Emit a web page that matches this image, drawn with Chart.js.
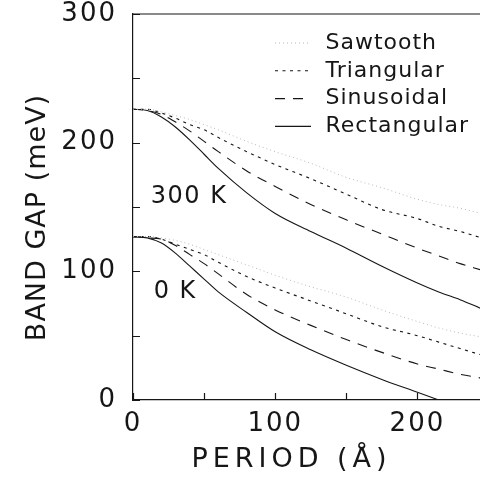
<!DOCTYPE html>
<html>
<head>
<meta charset="utf-8">
<script src="https://cdn.jsdelivr.net/npm/chart.js@4.4.1/dist/chart.umd.min.js"></script>
<style>
  html, body { margin: 0; padding: 0; background: #fff; }
  #wrap { width: 480px; height: 486px; }
</style>
</head>
<body>
<div id="wrap"><canvas id="chart"></canvas></div>
<script>
// ------------------------
// DATA
// ------------------------
const periods = [0, 10, 20, 30, 40, 50, 60, 80, 100, 125, 150, 175, 200, 215, 230, 245];

// 300 K curves (meV)
const saw300  = [226, 226, 224, 221, 218, 214, 210, 201, 193, 184, 173, 165, 156, 152, 149, 145];
const tri300  = [226, 226, 223, 219, 214, 210, 204, 193, 183, 172, 160, 148, 141, 135, 131, 126];
const sin300  = [226, 225, 222, 216, 209, 201, 193, 178, 166, 152, 140, 129, 118, 112, 106, 101];
const rect300 = [226, 225, 220, 212, 202, 191, 180, 161, 145, 131, 118, 104, 91, 84, 78, 71];

// 0 K curves (meV)
const saw0  = [127, 127, 126, 124, 121, 117, 113, 105, 97, 88, 80, 70, 61, 56, 52, 49];
const tri0  = [127, 127, 125, 121, 117, 113, 107, 96, 87, 77, 67, 57, 50, 45, 40, 35];
const sin0  = [127, 126, 125, 120, 113, 106, 98, 82, 70, 58, 47, 37, 28, 24, 20, 17];
const rect0 = [127, 126, 122, 114, 104, 94, 84, 68, 53, 39, 27, 16, 6, 0, null, null];

const profiles = ['Sawtooth', 'Triangular', 'Sinusoidal', 'Rectangular'];
const xTicks = [0, 50, 100, 150, 200];
const yTicks = [0, 50, 100, 150, 200, 250, 300];

const FONT = '"DejaVu Sans", sans-serif';
const INK = '#161616';

const styles = {
  Sawtooth:    { color: '#b8b8b8', dash: [1, 3], width: 1 },
  Triangular:  { color: INK, dash: [3, 4.5], width: 1.1 },
  Sinusoidal:  { color: INK, dash: [10, 8], width: 1.1 },
  Rectangular: { color: INK, dash: [], width: 1.1 }
};

function pts(ys) {
  return periods.map((p, i) => ({ x: p, y: ys[i] }));
}

function ds(name, ys) {
  const s = styles[name];
  return {
    label: name,
    data: pts(ys),
    borderColor: s.color,
    borderDash: s.dash,
    borderWidth: s.width,
    pointRadius: 0,
    fill: false,
    cubicInterpolationMode: 'monotone',
    spanGaps: false
  };
}

const datasets = [
  ds('Sawtooth', saw300), ds('Triangular', tri300), ds('Sinusoidal', sin300), ds('Rectangular', rect300),
  ds('Sawtooth', saw0), ds('Triangular', tri0), ds('Sinusoidal', sin0), ds('Rectangular', rect0)
];

// ------------------------
// FRAME, INWARD TICKS, LEGEND, LABELS
// ------------------------
function spacedText(ctx, text, x, y, spacing) {
  ctx.letterSpacing = spacing + 'px';
  ctx.fillText(text, x + spacing / 2, y);
}

function noPad(s) {
  s.paddingTop = 0; s.paddingBottom = 0; s.paddingLeft = 0; s.paddingRight = 0;
}

const decor = {
  id: 'decor',
  beforeDraw(chart) {
    chart.ctx.letterSpacing = '2px';
  },
  afterDraw(chart) {
    const { ctx, chartArea: a, scales: { x, y } } = chart;
    ctx.save();
    ctx.strokeStyle = INK;
    ctx.lineWidth = 1.2;
    ctx.setLineDash([]);
    ctx.beginPath();
    ctx.moveTo(a.left, a.top);
    ctx.lineTo(a.right, a.top);
    yTicks.forEach(v => {
      const py = Math.round(y.getPixelForValue(v)) + 0.5;
      ctx.moveTo(a.left, py); ctx.lineTo(a.left + 7, py);
    });
    xTicks.forEach(v => {
      const px = Math.round(x.getPixelForValue(v)) + 0.5;
      ctx.moveTo(px, a.bottom); ctx.lineTo(px, a.bottom - 7);
    });
    ctx.stroke();

    // legend
    ctx.font = '22px ' + FONT;
    ctx.fillStyle = INK;
    ctx.textBaseline = 'middle';
    ctx.textAlign = 'left';
    profiles.forEach((name, i) => {
      const s = styles[name];
      const ry = 43 + i * 27.8;
      ctx.beginPath();
      ctx.strokeStyle = s.color;
      ctx.lineWidth = s.width;
      ctx.setLineDash(s.dash);
      ctx.moveTo(275, ry); ctx.lineTo(311, ry);
      ctx.stroke();
      spacedText(ctx, name, 325, ry, 1);
    });
    ctx.setLineDash([]);

    // temperature labels
    ctx.font = '24px ' + FONT;
    spacedText(ctx, '300 K', x.getPixelForValue(12), y.getPixelForValue(158), 1.5);
    spacedText(ctx, '0 K', x.getPixelForValue(14), y.getPixelForValue(84), 1.5);

    // axis titles
    ctx.font = '27px ' + FONT;
    ctx.textAlign = 'center';
    ctx.letterSpacing = '5px';
    ctx.fillText('PERIOD (Å)', 289 + 2.5, 460);
    ctx.save();
    ctx.translate(38, 218);
    ctx.rotate(-Math.PI / 2);
    ctx.letterSpacing = '1px';
    ctx.fillText('BAND GAP (meV)', 0.5, 0);
    ctx.restore();
    ctx.restore();
  }
};

new Chart(document.getElementById('chart'), {
  type: 'line',
  data: { datasets },
  options: {
    responsive: true,
    maintainAspectRatio: false,
    animation: false,
    layout: { padding: { top: 14, right: 0, left: 0, bottom: 0 } },
    plugins: { legend: { display: false }, tooltip: { enabled: false } },
    scales: {
      x: {
        type: 'linear',
        min: 0,
        max: 244,
        afterFit: s => { s.height = 86; noPad(s); },
        afterBuildTicks: s => { s.ticks = xTicks.map(v => ({ value: v })); },
        grid: { display: false, drawTicks: false },
        border: { display: true, color: INK, width: 1.2 },
        ticks: {
          autoSkip: false,
          maxRotation: 0,
          padding: 9,
          color: INK,
          font: { family: FONT, size: 26 },
          callback: v => (v % 100 === 0 ? String(v) : '')
        }
      },
      y: {
        type: 'linear',
        min: 0,
        max: 300,
        afterFit: s => { s.width = 133; noPad(s); },
        afterBuildTicks: s => { s.ticks = yTicks.map(v => ({ value: v })); },
        grid: { display: false, drawTicks: false },
        border: { display: true, color: INK, width: 1.2 },
        ticks: {
          autoSkip: false,
          padding: 16,
          color: INK,
          font: { family: FONT, size: 26 },
          callback: v => (v % 100 === 0 ? String(v) : '')
        }
      }
    }
  },
  plugins: [decor]
});
</script>
</body>
</html>
